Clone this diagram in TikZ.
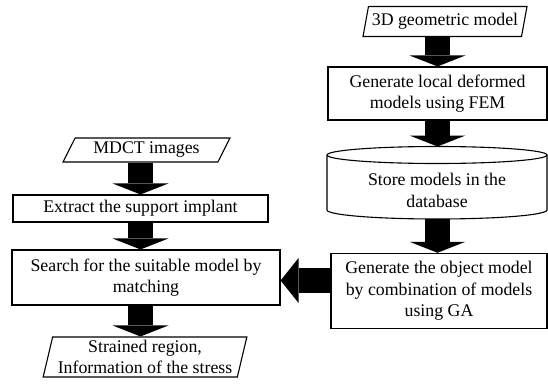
\documentclass[tikz,border=0pt]{standalone}
\usepackage{fontspec}
\setmainfont{Liberation Serif}
\usetikzlibrary{arrows.meta,shapes.geometric}
\tikzset{
  proc/.style={draw, line width=1.1pt, align=center, inner sep=2pt},
  io/.style={trapezium, draw, line width=1.1pt, align=center, inner xsep=0pt, inner ysep=1pt, trapezium stretches=true},
  blk/.style={line width=25pt, -{Triangle[length=11pt,width=56pt,line width=0pt]}},
  blkh/.style={line width=25pt, -{Triangle[length=18pt,width=45pt,line width=0pt]}},
}

\begin{document}
\begin{tikzpicture}[x=1pt,y=1pt,every node/.style={font=\fontsize{17.8pt}{21.5pt}\selectfont}]
\useasboundingbox (0,0) rectangle (548,-383);
% right column
\node[io, minimum width=164pt, minimum height=30pt, trapezium left angle=74, trapezium right angle=106] (geo) at (445,-21.5) {3D geometric model};
\node[proc, minimum width=219pt, minimum height=53pt] (fem) at (437.5,-93.5) {Generate local deformed\\models using FEM};
\node[align=center] (db) at (437,-190.5) {Store models in the\\database};
\coordinate (dbtop) at ([yshift=44pt]db.center);
\coordinate (dbbot) at ([yshift=-28.5pt]db.center);
\draw[line width=1.1pt] ([yshift=35.5pt]db.center) ellipse [x radius=110pt, y radius=8.5pt];
\draw[line width=1.1pt] ([shift={(-110pt,35.5pt)}]db.center) -- ++(0,-55pt) arc[start angle=180, end angle=360, x radius=110pt, y radius=9pt] -- ++(0,55pt);
\node[proc, minimum width=216pt, minimum height=75pt] (obj) at (439,-290.8) {Generate the object model\\by combination of models\\using GA};
% left column
\node[io, minimum width=167pt, minimum height=24pt, trapezium left angle=63, trapezium right angle=117] (mdct) at (146.5,-150) {MDCT images};
\node[proc, minimum width=255pt, minimum height=27pt] (extract) at (140.5,-208.5) {Extract the support implant};
\node[proc, minimum width=268pt, minimum height=55pt] (search) at (146,-277.5) {Search for the suitable model by\\matching};
\node[io, minimum width=204pt, minimum height=40pt, trapezium left angle=76, trapezium right angle=104] (strained) at (145,-357) {Strained region,\\Information of the stress};
% arrows
\draw[blk] (geo.south -| fem) -- (fem.north);
\draw[blk] (fem.south) -- (fem.south |- dbtop);
\draw[blk] (dbbot -| fem) -- (obj.north -| fem);
\draw[blkh] ([yshift=10.3pt]obj.west) -- ([yshift=10.3pt]obj.west -| search.east);
\draw[blk] (mdct.south -| extract) -- (extract.north);
\draw[blk] (extract.south) -- (extract.south |- search.north);
\draw[blk] (search.south -| extract) -- (strained.north -| extract);
\end{tikzpicture}
\end{document}
